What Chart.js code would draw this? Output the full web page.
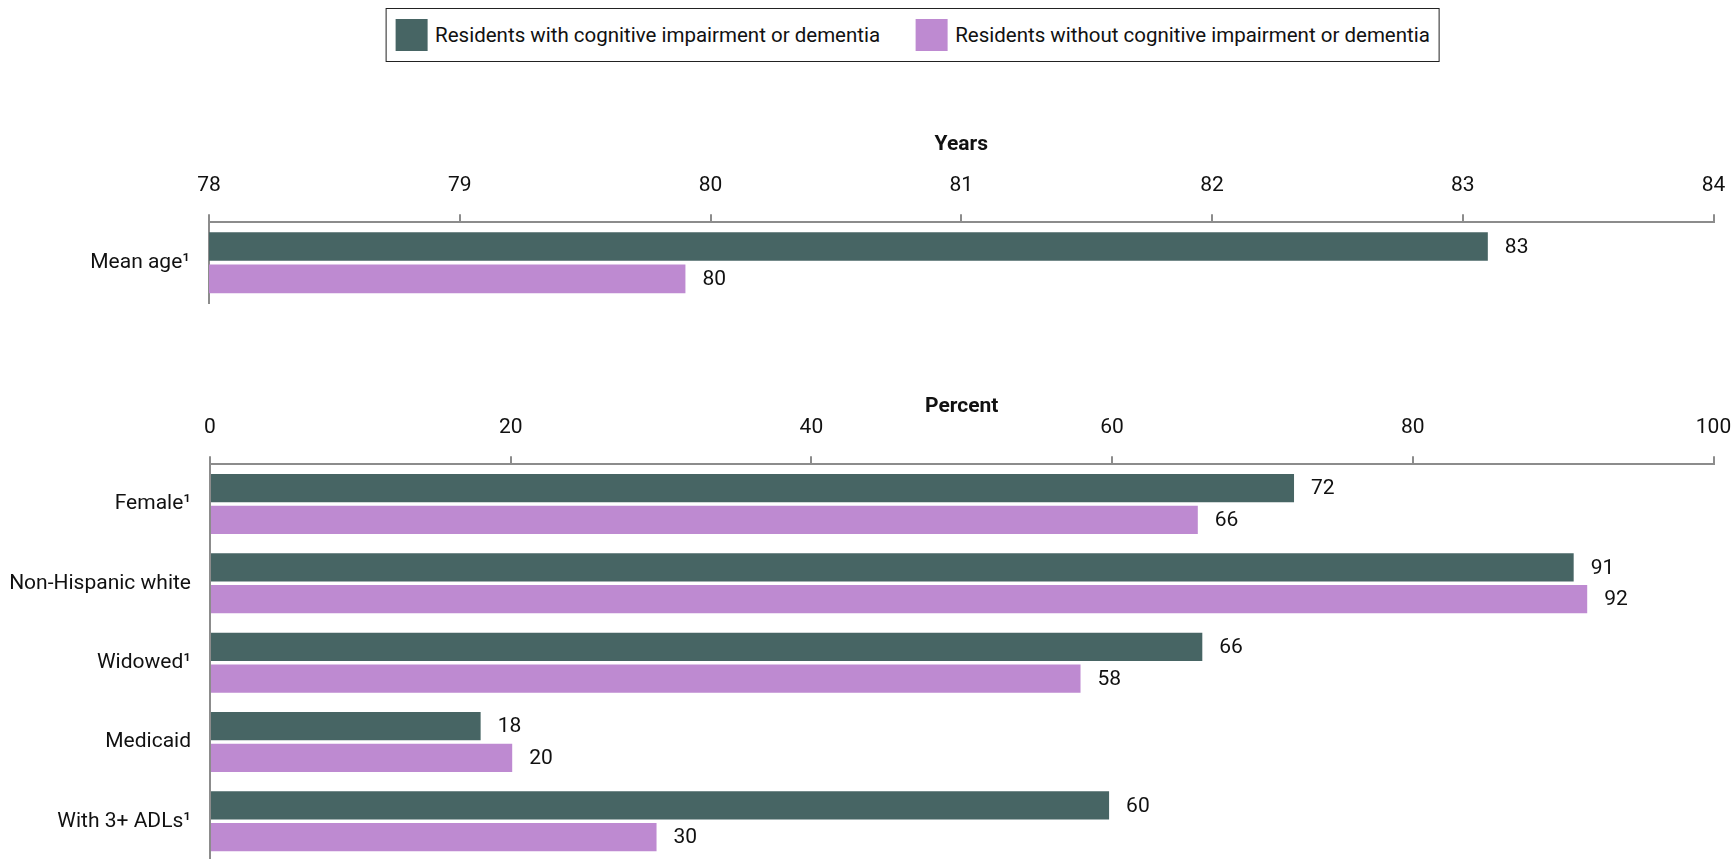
<!DOCTYPE html>
<html>
<head>
<meta charset="utf-8">
<title>Residents with and without cognitive impairment or dementia</title>
<script src="https://cdn.jsdelivr.net/npm/chart.js@4.4.1/dist/chart.umd.min.js"></script>
<style>
  html, body { margin: 0; padding: 0; background: #fff; overflow: hidden; }
  body { width: 1732px; height: 859px; position: relative; font-family: Roboto, 'Liberation Sans', sans-serif; }
  #legend { position: absolute; left: 912.5px; top: 8px; transform: translateX(-50%);
            display: flex; align-items: center; box-sizing: border-box; height: 54px;
            border: 1.5px solid #222; padding: 0 9px; white-space: nowrap;
            font-size: 20.5px; color: #111; }
  #legend .item { display: flex; align-items: center; }
  #legend .item + .item { margin-left: 35px; }
  #legend .swatch { width: 32px; height: 32px; margin-right: 8px; }
  #ageChart { position: absolute; left: 0; top: 100px; }
  #pctChart { position: absolute; left: 0; top: 340px; }
</style>
</head>
<body>
<div id="legend"></div>
<canvas id="ageChart" width="1748" height="235"></canvas>
<canvas id="pctChart" width="1748" height="553"></canvas>
<script>
// series
const seriesNames = ['Residents with cognitive impairment or dementia', 'Residents without cognitive impairment or dementia'];
const seriesColors = ['#476564', '#be8ad1'];

// top panel: mean age in years
const ageCategories = ['Mean age\u00B9'];
const ageWith = [83.1];
const ageWithout = [79.9];
const ageTicks = [78, 79, 80, 81, 82, 83, 84];

// bottom panel: percent
const pctCategories = ['Female\u00B9', 'Non-Hispanic white', 'Widowed\u00B9', 'Medicaid', 'With 3+ ADLs\u00B9'];
const pctWith = [72.1, 90.7, 66.0, 18.0, 59.8];
const pctWithout = [65.7, 91.6, 57.9, 20.1, 29.7];
const pctTicks = [0, 20, 40, 60, 80, 100];

const fontFamily = "Roboto, 'Liberation Sans', sans-serif";
const fontSize = 21;
const textColor = '#111';
const axisColor = '#8c8c8c';

// numbers at the end of the bars
const valueLabels = {
    id: 'valueLabels',
    afterDatasetsDraw(chart) {
        const ctx = chart.ctx;
        ctx.save();
        ctx.font = fontSize + 'px ' + fontFamily;
        ctx.fillStyle = textColor;
        ctx.textAlign = 'left';
        ctx.textBaseline = 'middle';
        chart.data.datasets.forEach((ds, i) => {
            chart.getDatasetMeta(i).data.forEach((bar, j) => {
                ctx.fillText(Math.round(ds.data[j]), bar.x + 17, bar.y + 1);
            });
        });
        ctx.restore();
    }
};

function makeChart(canvasId, categories, dataWith, dataWithout, ticks, opts) {
    const ctx = document.getElementById(canvasId).getContext('2d');
    return new Chart(ctx, {
        type: 'bar',
        data: {
            labels: categories,
            datasets: [
                { label: seriesNames[0], data: dataWith, backgroundColor: seriesColors[0] },
                { label: seriesNames[1], data: dataWithout, backgroundColor: seriesColors[1] }
            ]
        },
        options: {
            indexAxis: 'y',
            responsive: false,
            animation: false,
            events: [],
            categoryPercentage: 0.8,
            barPercentage: 0.89,
            // right/bottom padding also absorb the label overhang chart.js reserves
            layout: { padding: { left: 0, right: 34.5, top: 0, bottom: 32 } },
            plugins: {
                legend: { display: false },
                tooltip: { enabled: false }
            },
            scales: {
                x: {
                    position: 'top',
                    min: ticks[0],
                    max: ticks[ticks.length - 1],
                    afterBuildTicks: s => { s.ticks = ticks.map(v => ({ value: v })); },
                    afterFit: s => { s.height = opts.axisHeight; },
                    grid: { drawOnChartArea: false, drawTicks: true, tickLength: 8, color: axisColor, lineWidth: 2 },
                    border: { color: axisColor, width: 2 },
                    ticks: { padding: 15.5, color: textColor, font: { family: fontFamily, size: fontSize } },
                    title: {
                        display: true,
                        text: opts.title,
                        color: textColor,
                        padding: { top: opts.titleTop, bottom: 0 },
                        font: { family: fontFamily, size: fontSize, weight: 'bold' }
                    }
                },
                y: {
                    afterFit: s => { s.width = opts.axisWidth; },
                    grid: { display: false, drawTicks: false },
                    border: { color: axisColor, width: 2 },
                    ticks: { padding: 19, color: textColor, font: { family: fontFamily, size: fontSize } }
                }
            }
        },
        plugins: [valueLabels]
    });
}

const ageChart = makeChart('ageChart', ageCategories, ageWith, ageWithout, ageTicks,
    { title: 'Years', titleTop: 32.4, axisHeight: 122.3, axisWidth: 209 });
makeChart('pctChart', pctCategories, pctWith, pctWithout, pctTicks,
    { title: 'Percent', titleTop: 54, axisHeight: 124.3, axisWidth: 210 });

// legend built from the chart's datasets
const legendEl = document.getElementById('legend');
ageChart.data.datasets.forEach(ds => {
    const item = document.createElement('div');
    item.className = 'item';
    const sw = document.createElement('span');
    sw.className = 'swatch';
    sw.style.background = ds.backgroundColor;
    const txt = document.createElement('span');
    txt.textContent = ds.label;
    item.appendChild(sw);
    item.appendChild(txt);
    legendEl.appendChild(item);
});
</script>
</body>
</html>
